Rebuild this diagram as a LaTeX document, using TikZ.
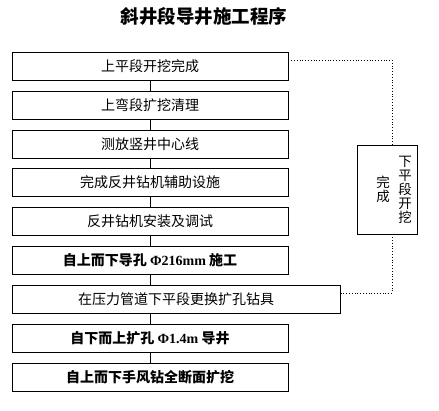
\documentclass[tikz,border=0pt]{standalone}
\usepackage{fontspec}
\setmainfont{Noto Sans CJK SC}
\newfontfamily\lat{Liberation Serif}
\usetikzlibrary{calc}
\begin{document}
\begin{tikzpicture}[x=1pt,y=1pt,
  stepbox/.style={draw=black, line width=0.8pt, minimum height=28pt, inner sep=0pt, font=\fontsize{14}{15}\selectfont},
  boldbox/.style={stepbox, font=\fontsize{14}{15}\selectfont\bfseries},
  link/.style={draw=black, line width=0.8pt},
  dotlink/.style={draw=black, line width=0.8pt, dotted}]
\useasboundingbox (0,0) rectangle (439,-410);
\node[font=\fontsize{18.5}{20}\selectfont\bfseries] (title) at (204,-16) {斜井段导井施工程序};
\node[stepbox, minimum width=276pt] (b1) at (150,-66) {上平段开挖完成};
\node[stepbox, minimum width=276pt] (b2) at (150,-105.5) {上弯段扩挖清理};
\node[stepbox, minimum width=276pt] (b3) at (150,-144) {测放竖井中心线};
\node[stepbox, minimum width=276pt] (b4) at (150,-182.5) {完成反井钻机辅助设施};
\node[stepbox, minimum width=276pt] (b5) at (150,-221) {反井钻机安装及调试};
\node[boldbox, minimum width=276pt] (b6) at (150,-260.5) {自上而下导孔 {\lat\bfseries Φ216mm} 施工};
\node[stepbox, minimum width=328pt] (b7) at (176,-299) {在压力管道下平段更换扩孔钻具};
\node[boldbox, minimum width=276pt] (b8) at (150,-338) {自下而上扩孔 {\lat\bfseries Φ1.4m} 导井};
\node[boldbox, minimum width=276pt] (b9) at (150,-377) {自上而下手风钻全断面扩挖};
\node[draw=black, line width=0.8pt, minimum width=60pt, minimum height=89pt, inner sep=0pt] (rb) at (387,-189.5) {};
\node[font=\fontsize{13.5}{14}\selectfont, align=center] (rt1) at (405,-190) {下\\平\\段\\开\\挖};
\node[font=\fontsize{13.5}{14}\selectfont, align=center] (rt2) at (383,-189) {完\\成};
\draw[link] (b1) -- (b2);
\draw[link] (b2) -- (b3);
\draw[link] (b3) -- (b4);
\draw[link] (b4) -- (b5);
\draw[link] (b5) -- (b6);
\draw[link] (b6.south -| b2.south) -- (b2.south |- b7.north);
\draw[link] (b2.south |- b7.south) -- (b8.north);
\draw[link] (b8) -- (b9);
\draw[dotlink] ($(b1.east)+(0,6)$) -| ($(rb.north)+(5,0)$);
\draw[dotlink] ($(rb.south)+(5,0)$) |- ($(b7.east)+(0,6)$);
\end{tikzpicture}
\end{document}
